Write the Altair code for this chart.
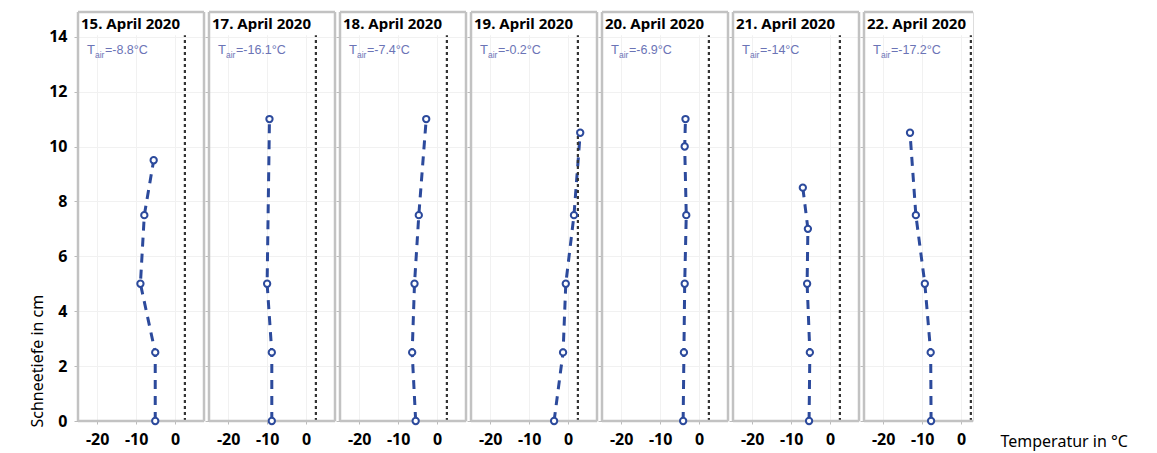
import altair as alt
import pandas as pd

# ---- data ----
DATES = ["15. April 2020", "17. April 2020", "18. April 2020", "19. April 2020",
         "20. April 2020", "21. April 2020", "22. April 2020"]
TAIR = ["-8.8", "-16.1", "-7.4", "-0.2", "-6.9", "-14", "-17.2"]
DEPTHS = [
    [9.5, 7.5, 5, 2.5, 0],
    [11, 5, 2.5, 0],
    [11, 7.5, 5, 2.5, 0],
    [10.5, 7.5, 5, 2.5, 0],
    [11, 10, 7.5, 5, 2.5, 0],
    [8.5, 7, 5, 2.5, 0],
    [10.5, 7.5, 5, 2.5, 0],
]
TEMPS = [
    [-5.5, -7.9, -8.9, -5.1, -5.1],
    [-9.4, -10.0, -8.8, -8.8],
    [-2.8, -4.7, -5.8, -6.4, -5.5],
    [3.1, 1.5, -0.6, -1.3, -3.6],
    [-3.5, -3.7, -3.3, -3.7, -3.9, -4.1],
    [-7.0, -5.7, -5.9, -5.2, -5.4],
    [-13.1, -11.6, -9.3, -7.8, -7.7],
]
X_TICKS = [-20, -10, 0]
Y_TICKS = [0, 2, 4, 6, 8, 10, 12, 14]
ZERO_LINE = 2.5

# ---- layout / style ----
X_MIN, X_MAX, X_MAX_LAST = -24.9, 7.4, 3.05
Y_MAX, HEADER_BOTTOM = 14.9, 14.05
HEADER_MID = (Y_MAX + HEADER_BOTTOM) / 2
TAIR_X, TAIR_Y = -22.6, 13.5
W, W_LAST, H = 126, 109, 409
FONT = "Noto Sans"
BLUE = "#2c4a9c"
TAIR_COLOR = "#6b74b6"
BORDER = "#c2c2c2"


def panel(i):
    last = i == len(DATES) - 1
    first = i == 0
    xmax = X_MAX_LAST if last else X_MAX
    width = W_LAST if last else W
    prof = pd.DataFrame({"depth": DEPTHS[i], "temp": TEMPS[i]})
    info = pd.DataFrame({"date": [DATES[i]], "tair": ["=" + TAIR[i] + "°C"]})

    xscale = alt.Scale(domain=[X_MIN, xmax], nice=False, zero=False)
    yscale = alt.Scale(domain=[0, Y_MAX], nice=False, zero=False)

    xkw = dict(values=X_TICKS, labelExpr="'' + datum.value", labelFont=FONT,
               labelFontSize=16, labelFontWeight="bold", labelColor="black",
               labelPadding=7, tickSize=3, tickColor="#bbbbbb", domain=False,
               grid=True, gridColor="#f1f1f1", labelFlush=False)
    if last:
        xkw.update(title="Temperatur in °C", titleFont=FONT, titleFontSize=16,
                   titleFontWeight="normal", titleColor="black", titleX=136,
                   titleY=20, titleAlign="left", titleBaseline="middle",
                   titleAnchor="start")
    else:
        xkw.update(title=None)

    ykw = dict(values=Y_TICKS, tickSize=4, tickColor="#bbbbbb", domain=False,
               grid=True, gridColor="#f1f1f1")
    if first:
        ykw.update(labelFont=FONT, labelFontSize=16, labelFontWeight="bold",
                   labelColor="black", labelPadding=7, labelFlush=False,
                   title="Schneetiefe in cm", titleFont=FONT, titleFontSize=16,
                   titleFontWeight="normal", titleColor="black", titleX=-41,
                   titleY=H + 6, titleAngle=-90, titleAlign="left",
                   titleBaseline="middle")
    else:
        ykw.update(labels=False, title=None)

    base_info = alt.Chart(info)

    header = base_info.mark_rect(fill="white").encode(
        x=alt.datum(X_MIN), x2=alt.datum(xmax),
        y=alt.datum(HEADER_BOTTOM), y2=alt.datum(Y_MAX))
    header_text = base_info.mark_text(
        align="left", baseline="middle", font=FONT, fontSize=15,
        fontWeight="bold", color="black", dx=3).encode(
        x=alt.datum(X_MIN), y=alt.datum(HEADER_MID), text="date:N")

    t_main = base_info.mark_text(
        align="left", baseline="middle", font="Liberation Sans", fontSize=13,
        color=TAIR_COLOR).encode(
        x=alt.datum(TAIR_X), y=alt.datum(TAIR_Y), text=alt.value("T"))
    t_sub = base_info.mark_text(
        align="left", baseline="middle", font="Liberation Sans", fontSize=8.5,
        color=TAIR_COLOR, dx=8, dy=5).encode(
        x=alt.datum(TAIR_X), y=alt.datum(TAIR_Y), text=alt.value("air"))
    t_val = base_info.mark_text(
        align="left", baseline="middle", font="Liberation Sans", fontSize=12.5,
        color=TAIR_COLOR, dx=18).encode(
        x=alt.datum(TAIR_X), y=alt.datum(TAIR_Y), text="tair:N")

    dotted = base_info.mark_rule(color="#333333", strokeDash=[3, 3],
                                 strokeWidth=2.2).encode(
        x=alt.datum(ZERO_LINE), y=alt.datum(0), y2=alt.datum(HEADER_BOTTOM))

    line = alt.Chart(prof).mark_line(color=BLUE, strokeDash=[9, 7],
                                     strokeWidth=3).encode(
        x=alt.X("temp:Q", scale=xscale, axis=alt.Axis(**xkw)),
        y=alt.Y("depth:Q", scale=yscale, axis=alt.Axis(**ykw)),
        order="depth:Q")
    points = alt.Chart(prof).mark_point(
        shape="circle", fill="white", stroke=BLUE, strokeWidth=2,
        size=40, opacity=1, fillOpacity=1).encode(
        x="temp:Q", y="depth:Q")

    borders = [
        base_info.mark_rule(color=BORDER, strokeWidth=2.5).encode(x=alt.datum(X_MIN)),
        base_info.mark_rule(color=BORDER, strokeWidth=2.5).encode(y=alt.datum(Y_MAX)),
        base_info.mark_rule(color=BORDER, strokeWidth=2.5).encode(y=alt.datum(0)),
    ]
    if not last:
        borders.append(
            base_info.mark_rule(color=BORDER, strokeWidth=2.5).encode(x=alt.datum(xmax)))

    return alt.layer(line, header, header_text, t_main, t_sub, t_val, dotted,
                     *borders, points).properties(width=width, height=H)


chart = alt.hconcat(*[panel(i) for i in range(len(DATES))], spacing=5,
                    bounds="flush").properties(
    padding={"left": 20, "top": 2, "right": 5, "bottom": 5}
).configure_view(stroke="transparent").configure(background="white")

chart.save("out.html", embed_options={"renderer": "svg", "actions": False})
